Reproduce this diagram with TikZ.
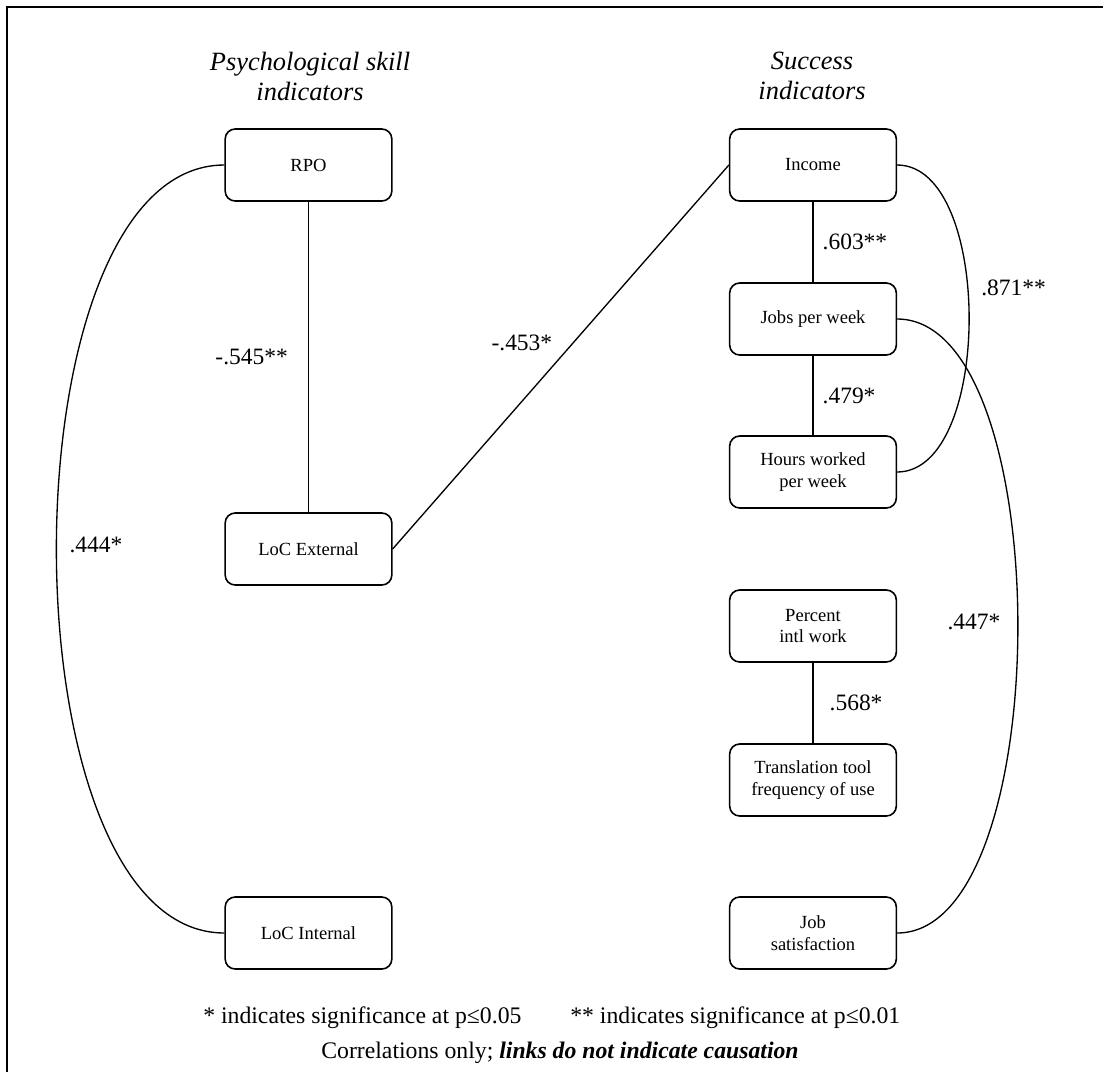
\documentclass[tikz,border=0pt]{standalone}
\usepackage{fontspec}
\setmainfont{Liberation Serif}
\begin{document}
\begin{tikzpicture}[x=0.75pt,y=-0.75pt,
  box/.style={draw, line width=1.2pt, rounded corners=7.5pt, minimum width=125pt, minimum height=54pt, align=center, inner sep=2pt, font=\fontsize{13.9}{16.3}\selectfont},
  link/.style={line width=1pt},
  lbl/.style={inner sep=0pt, font=\fontsize{17.6}{20}\selectfont},
  ttl/.style={align=center, inner sep=0pt, font=\fontsize{19.8}{22.5}\selectfont\itshape},
  foot/.style={inner sep=0pt, font=\fontsize{17.8}{21}\selectfont}]
\useasboundingbox (0,0) rectangle (1103,1072);
\draw[line width=0.9pt] (7,1072) -- (7,7) -- (1103,7);

% titles
\node[ttl] (t1) at (310,76) {Psychological skill\\indicators};
\node[ttl] (t2) at (812,76) {Success\\indicators};

% left column
\node[box] (rpo) at (308.5,165) {RPO};
\node[box] (locext) at (308.5,549) {LoC External};
\node[box] (locint) at (308.5,933) {LoC Internal};

% right column
\node[box] (income) at (813,165) {Income};
\node[box] (jobs) at (813,319) {Jobs per week};
\node[box] (hours) at (813,472) {Hours worked\\per week};
\node[box] (pct) at (813,626) {Percent\\intl work};
\node[box] (tool) at (813,780) {Translation tool\\frequency of use};
\node[box] (sat) at (813,933) {Job\\satisfaction};

% connectors
\draw[link] (rpo) -- node[lbl, left=15pt] {-.545**} (locext);
\draw[link] (locext.east) -- node[lbl, pos=0.536, left=15pt] {-.453*} (income.west);
\draw[link] (income) -- node[lbl, right=6.75pt] {.603**} (jobs);
\draw[link] (jobs) -- node[lbl, right=6.75pt] {.479*} (hours);
\draw[link] (pct) -- node[lbl, right=12pt] {.568*} (tool);
\draw[link] (income.east) .. controls +(96,0) and +(96,0) .. (hours.east);
\draw[link] (jobs.east) .. controls +(161,0) and +(161,0) .. (sat.east);
\draw[link] (rpo.west) .. controls +(-224,0) and +(-224,0) .. (locint.west);

% curve labels
\node[lbl, anchor=west] (l871) at (981,288) {.871**};
\node[lbl] (l447) at (974,622) {.447*};
\node[lbl] (l444) at (96,545) {.444*};

% footer
\node[foot, anchor=base west] (f1) at (203,1023) {* indicates significance at p≤0.05};
\node[foot, anchor=base west] (f2) at (570,1023) {** indicates significance at p≤0.01};
\node[foot, anchor=base] (f3) at (560,1058) {Correlations only; \textbf{\textit{links do not indicate causation}}};
\end{tikzpicture}
\end{document}
